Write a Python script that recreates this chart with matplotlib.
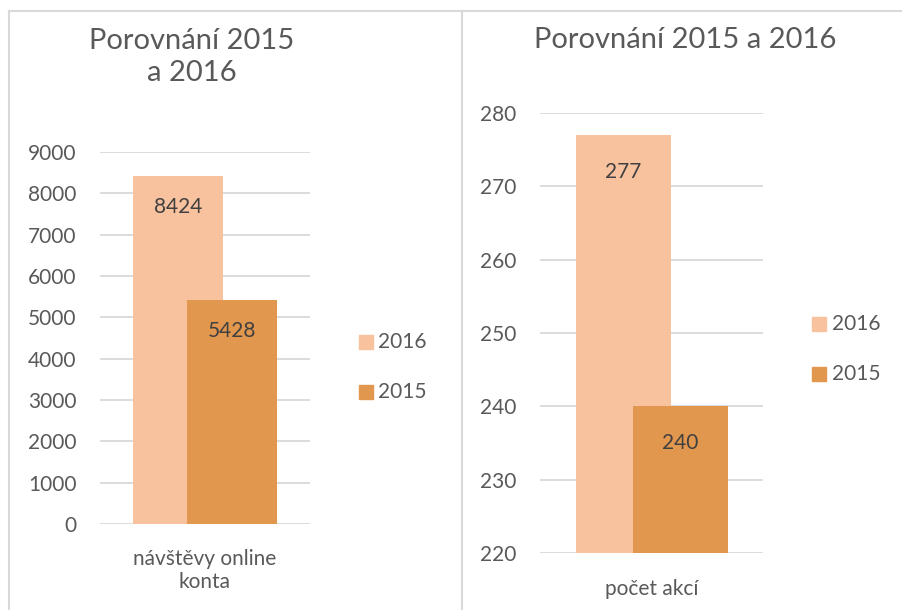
import matplotlib.pyplot as plt
from matplotlib.patches import Rectangle
from matplotlib.lines import Line2D

plt.rcParams['font.family'] = ['Lato', 'DejaVu Sans']

# data
series = ['2016', '2015']
left_category = 'návštěvy online\nkonta'
left_values = [8424, 5428]
left_ticks = [0, 1000, 2000, 3000, 4000, 5000, 6000, 7000, 8000, 9000]
right_category = 'počet akcí'
right_values = [277, 240]
right_ticks = [220, 230, 240, 250, 260, 270, 280]

colors = ['#F9C29F', '#E2974E']
text_col = '#595959'
label_col = '#404040'
grid_col = '#D9D9D9'

W, H = 902, 610
fig = plt.figure(figsize=(W / 100, H / 100), dpi=100)


def fx(px):
    return px / W


def fy(py):
    return 1 - py / H


# panel borders
for x0, x1 in [(9, 462), (462, 905)]:
    fig.add_artist(Line2D([fx(x0), fx(x0)], [fy(11), fy(615)], color=grid_col, lw=1.5))
    fig.add_artist(Line2D([fx(x0), fx(x1)], [fy(11), fy(11)], color=grid_col, lw=1.5))


def draw_panel(rect, values, ticks, ylim, width, offset, category, cat_y):
    ax = fig.add_axes(rect)
    xs = [-offset, offset]
    for i, (v, c) in enumerate(zip(values, colors)):
        ax.bar(xs[i], v - ylim[0], bottom=ylim[0], width=width, color=c, zorder=2 + i)
        ax.text(xs[i], v - (ylim[1] - ylim[0]) * 0.083, str(v), ha='center', va='center',
                fontsize=15, color=label_col, zorder=5)
    ax.set_xlim(-0.5, 0.5)
    ax.set_ylim(ylim)
    ax.set_yticks(ticks)
    ax.set_xticks([])
    for t in ticks:
        ax.axhline(t, color=grid_col, lw=1.3, zorder=1)
    for s in ax.spines.values():
        s.set_visible(False)
    ax.tick_params(axis='y', length=0, pad=17, labelsize=15, labelcolor=text_col)
    ax.text(0, cat_y, category, transform=ax.get_xaxis_transform(), ha='center', va='top',
            fontsize=15, color=text_col, linespacing=1.2, multialignment='center')
    return ax


# left panel
axl = draw_panel([fx(100), fy(524), fx(210), (524 - 152) / H], left_values, left_ticks,
                 (0, 9000), 90 / 210, 27 / 210, left_category, -0.066)
# right panel
axr = draw_panel([fx(540), fy(553), fx(223), (553 - 113) / H], right_values, right_ticks,
                 (220, 280), 95 / 223, 28.5 / 223, right_category, -0.06)

fig.text(fx(192), fy(57), 'Porovnání 2015\na 2016', ha='center', va='center',
         fontsize=21, color=text_col, linespacing=1.28)
fig.text(fx(685), fy(40), 'Porovnání 2015 a 2016', ha='center', va='center',
         fontsize=21, color=text_col)

# legends
for (sx, sy, tx) in [(359, 335, 378), (812, 317, 832)]:
    for i, (name, c) in enumerate(zip(series, colors)):
        y = sy + i * 50
        fig.add_artist(Rectangle((fx(sx), fy(y + 14)), fx(14), 14 / H, color=c))
        fig.text(fx(tx), fy(y + 7), name, ha='left', va='center', fontsize=15, color=text_col)

fig.savefig('out.png', dpi=100)
